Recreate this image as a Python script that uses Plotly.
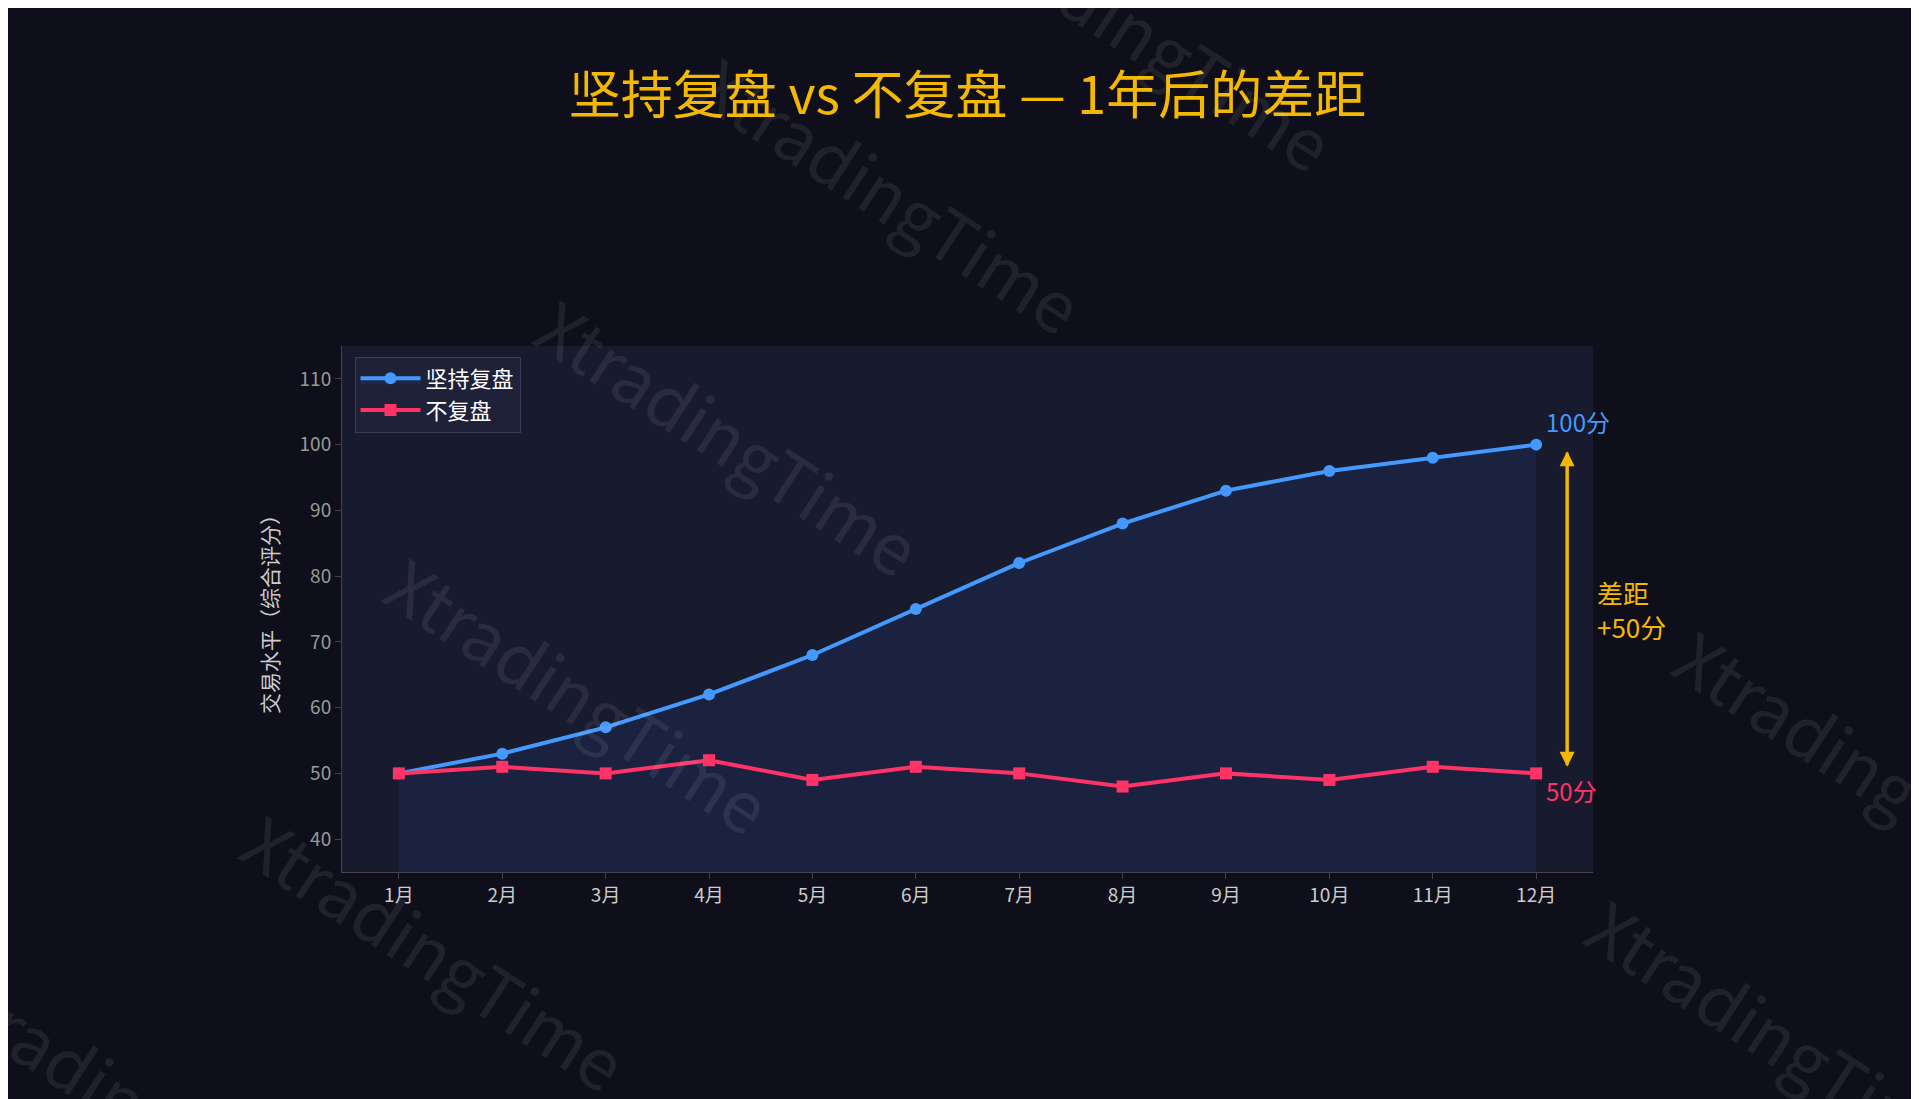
import plotly.graph_objects as go

months = ["1月", "2月", "3月", "4月", "5月", "6月", "7月", "8月", "9月", "10月", "11月", "12月"]
review = [50, 53, 57, 62, 68, 75, 82, 88, 93, 96, 98, 100]
no_review = [50, 51, 50, 52, 49, 51, 50, 48, 50, 49, 51, 50]
x_idx = list(range(len(months)))

FONT = "Noto Sans CJK SC, Noto Sans, sans-serif"
BLUE = "#4499ff"
RED = "#ff3366"
GOLD = "#f5b800"

fig = go.Figure()
fig.add_trace(go.Scatter(
    x=x_idx, y=review, name="坚持复盘", mode="lines+markers",
    line=dict(color=BLUE, width=4), marker=dict(size=12, symbol="circle"),
    fill="tozeroy", fillcolor="rgba(40,70,140,0.2)"
))
fig.add_trace(go.Scatter(
    x=x_idx, y=no_review, name="不复盘", mode="lines+markers",
    line=dict(color=RED, width=4), marker=dict(size=12, symbol="square")
))

# end labels
fig.add_annotation(x=x_idx[-1], y=review[-1], text="100分", showarrow=False,
                   xanchor="left", yanchor="bottom", xshift=8, yshift=4,
                   font=dict(color=BLUE, size=24, family=FONT))
fig.add_annotation(x=x_idx[-1], y=no_review[-1], text="50分", showarrow=False,
                   xanchor="left", yanchor="top", xshift=8, yshift=2,
                   font=dict(color=RED, size=24, family=FONT))

# gap arrow (double-headed)
gap_x = x_idx[-1] + 0.3
fig.add_annotation(x=gap_x, y=no_review[-1] + 1, ax=gap_x, ay=review[-1] - 1,
                   xref="x", yref="y", axref="x", ayref="y", text="",
                   showarrow=True, arrowhead=2, arrowsize=1, arrowwidth=3, arrowcolor=GOLD)
fig.add_annotation(x=gap_x, y=review[-1] - 1, ax=gap_x, ay=no_review[-1] + 1,
                   xref="x", yref="y", axref="x", ayref="y", text="",
                   showarrow=True, arrowhead=2, arrowsize=1, arrowwidth=3, arrowcolor=GOLD)
fig.add_annotation(x=gap_x, y=(review[-1] + no_review[-1]) / 2, text="差距<br>+50分",
                   showarrow=False, xanchor="left", xshift=28, align="left",
                   font=dict(color=GOLD, size=26, family=FONT))

# watermarks (paper coords relative to plot area)
for wx, wy in [(0.44, 1.29), (0.31, 0.83), (0.19, 0.34), (0.075, -0.15),
               (0.64, 1.6), (1.22, 0.2), (1.15, -0.31), (-0.17, -0.43)]:
    fig.add_annotation(xref="paper", yref="paper", x=wx, y=wy, text="XtradingTime",
                       showarrow=False, textangle=33, xanchor="center", yanchor="middle",
                       font=dict(size=70, color="rgba(255,255,255,0.08)", family=FONT))

fig.update_layout(
    width=1919, height=1099,
    paper_bgcolor="#0e0f1a", plot_bgcolor="#181a2e",
    margin=dict(l=334, r=334, t=338, b=235),
    title=dict(text="坚持复盘 vs 不复盘 — 1年后的差距", x=0.5, xanchor="center",
               y=0.92, yanchor="middle", font=dict(size=52, color=GOLD, family=FONT)),
    font=dict(family=FONT, color="#aaaaaa"),
    showlegend=True,
    legend=dict(x=0.01, y=0.98, xanchor="left", yanchor="top",
                bgcolor="#1e2138", bordercolor="#3a3d5a", borderwidth=1,
                font=dict(size=22, color="#ffffff"), itemwidth=60),
    xaxis=dict(tickmode="array", tickvals=x_idx, ticktext=months, range=[-0.55, 11.55],
               showgrid=False, zeroline=False, showline=True, linecolor="#444",
               ticks="outside", ticklen=6, tickcolor="#444",
               tickfont=dict(size=19, color="#cccccc")),
    yaxis=dict(range=[35, 115], tickvals=[40, 50, 60, 70, 80, 90, 100, 110],
               showgrid=False, zeroline=False, showline=True, linecolor="#444",
               ticks="outside", ticklen=6, tickcolor="#444",
               tickfont=dict(size=19, color="#999999"),
               title=dict(text="交易水平（综合评分）", font=dict(size=21, color="#cccccc"))),
)

fig.write_html("out.html")
